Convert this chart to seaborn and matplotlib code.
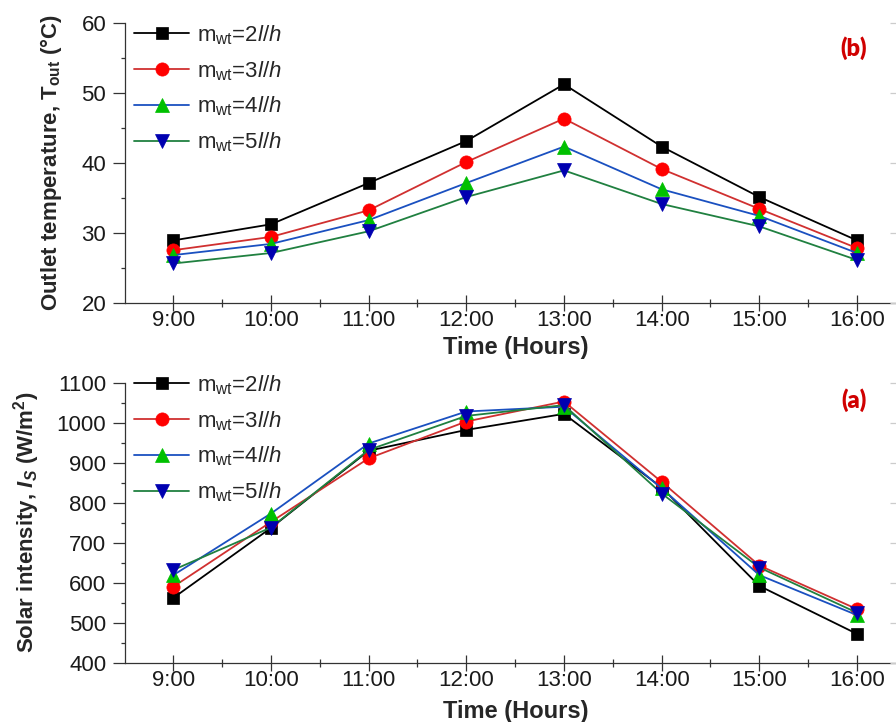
import seaborn as sns
import matplotlib.pyplot as plt
from matplotlib.ticker import MultipleLocator

# hours of the day and tick text
hours = [9, 10, 11, 12, 13, 14, 15, 16]
hour_labels = ['9:00', '10:00', '11:00', '12:00', '13:00', '14:00', '15:00', '16:00']

# (b) outlet temperature, deg C
t_out_2 = [28.9, 31.2, 37.1, 43.1, 51.2, 42.3, 35.1, 28.9]
t_out_3 = [27.5, 29.4, 33.2, 40.1, 46.3, 39.1, 33.4, 27.8]
t_out_4 = [26.8, 28.4, 31.8, 37.1, 42.3, 36.2, 32.4, 27.1]
t_out_5 = [25.6, 27.1, 30.2, 35.1, 38.9, 34.1, 30.9, 26.1]

# (a) solar intensity, W/m2
solar_2 = [562, 737, 930, 982, 1022, 838, 592, 472]
solar_3 = [590, 752, 911, 1003, 1053, 852, 643, 534]
solar_4 = [619, 773, 948, 1028, 1040, 836, 619, 519]
solar_5 = [632, 738, 932, 1017, 1044, 823, 638, 525]

flow_labels = [r'm$_{\mathregular{wt}}$=2$\mathit{l/h}$',
               r'm$_{\mathregular{wt}}$=3$\mathit{l/h}$',
               r'm$_{\mathregular{wt}}$=4$\mathit{l/h}$',
               r'm$_{\mathregular{wt}}$=5$\mathit{l/h}$']

line_colors = ['black', '#d03030', '#1a50c0', '#208040']
marker_colors = ['black', '#ff0000', '#00c000', '#0000b0']
markers = ['s', 'o', '^', 'v']
marker_sizes = [8.5, 9.5, 10, 10]

sns.set_theme(style='ticks')
plt.rcParams['font.family'] = ['Liberation Sans', 'DejaVu Sans']
plt.rcParams['mathtext.fontset'] = 'custom'
plt.rcParams['mathtext.rm'] = 'Liberation Sans'
plt.rcParams['mathtext.it'] = 'Liberation Sans:italic'
plt.rcParams['mathtext.bf'] = 'Liberation Sans:bold'
plt.rcParams['mathtext.bfit'] = 'Liberation Sans:italic:bold'

fig = plt.figure(figsize=(8.96, 7.22), dpi=100)
W, H = 896, 722
left = 125 / W
width = (898 - 125) / W
ax_top = fig.add_axes([left, 1 - 302.7 / H, width, 280 / H])
ax_bot = fig.add_axes([left, 1 - 662.7 / H, width, 280 / H])


def draw_panel(ax, series, ylim, major, minor, ylabel, ylab_x, xlab_y,
               tag, tag_y, leg_y):
    for vals, lab, lc, mc, mk, ms in zip(series, flow_labels, line_colors,
                                         marker_colors, markers, marker_sizes):
        sns.lineplot(x=hours, y=vals, ax=ax, color=lc, linewidth=1.3,
                     marker=mk, markersize=ms, markerfacecolor=mc,
                     markeredgecolor=mc, markeredgewidth=0.5, label=lab)
    ax.set_xlim(8.505, 16.42)
    ax.set_ylim(*ylim)
    ax.set_xticks(hours)
    ax.set_xticklabels(hour_labels)
    ax.xaxis.set_minor_locator(MultipleLocator(0.5))
    ax.yaxis.set_major_locator(MultipleLocator(major))
    ax.yaxis.set_minor_locator(MultipleLocator(minor))
    for s in ['top', 'right']:
        ax.spines[s].set_visible(False)
    for s in ['left', 'bottom']:
        ax.spines[s].set_color('#333333')
        ax.spines[s].set_linewidth(0.9)
    ax.tick_params(axis='x', which='major', direction='inout', length=12,
                   width=0.9, color='#333333', labelsize=16, pad=-1,
                   labelcolor='#1a1a1a')
    ax.tick_params(axis='x', which='minor', direction='inout', length=6,
                   width=0.9, color='#333333')
    ax.tick_params(axis='y', which='major', direction='out', length=8.5,
                   width=0.9, color='#333333', labelsize=16, pad=5,
                   labelcolor='#1a1a1a')
    ax.tick_params(axis='y', which='minor', direction='out', length=3,
                   width=0.9, color='#333333')
    ax.set_ylabel(ylabel, fontsize=16, fontweight='bold')
    ax.yaxis.set_label_coords(ylab_x, 0.5)
    ax.set_xlabel('Time (Hours)', fontsize=17, fontweight='bold')
    ax.xaxis.set_label_coords(0.505, xlab_y)
    ax.legend(loc='upper left', bbox_to_anchor=(0.0, leg_y), frameon=False,
              fontsize=16, handlelength=2.5, handletextpad=0.35,
              labelspacing=0.55, borderaxespad=0.2, borderpad=0.2)
    ax.text(0.943, tag_y, tag, transform=ax.transAxes, color='#d00000',
            fontsize=17, fontweight='heavy', family='Lato',
            ha='center', va='center')

    # faint ticks of the cropped right-hand axis
    twin = ax.twinx()
    twin.set_position(ax.get_position())
    twin.set_ylim(*ylim)
    twin.yaxis.set_major_locator(MultipleLocator(major))
    twin.tick_params(axis='y', which='major', direction='in', length=6,
                     width=0.9, color='#cccccc', labelright=False)
    twin.tick_params(axis='y', which='minor', right=False)
    for s in twin.spines.values():
        s.set_visible(False)


draw_panel(ax_top, [t_out_2, t_out_3, t_out_4, t_out_5], (20, 60), 10, 5,
           r'Outlet temperature, T$_{\mathbf{out}}$ (°C)', -0.079, -0.118,
           '(b)', 0.91, 1.03)
draw_panel(ax_bot, [solar_2, solar_3, solar_4, solar_5], (400, 1100), 100, 50,
           r'Solar intensity, $\mathbfit{I}_{\mathbfit{S}}$ (W/m$^{\mathbf{2}}$)',
           -0.107, -0.132, '(a)', 0.938, 1.066)

fig.savefig('out.png', dpi=100)
